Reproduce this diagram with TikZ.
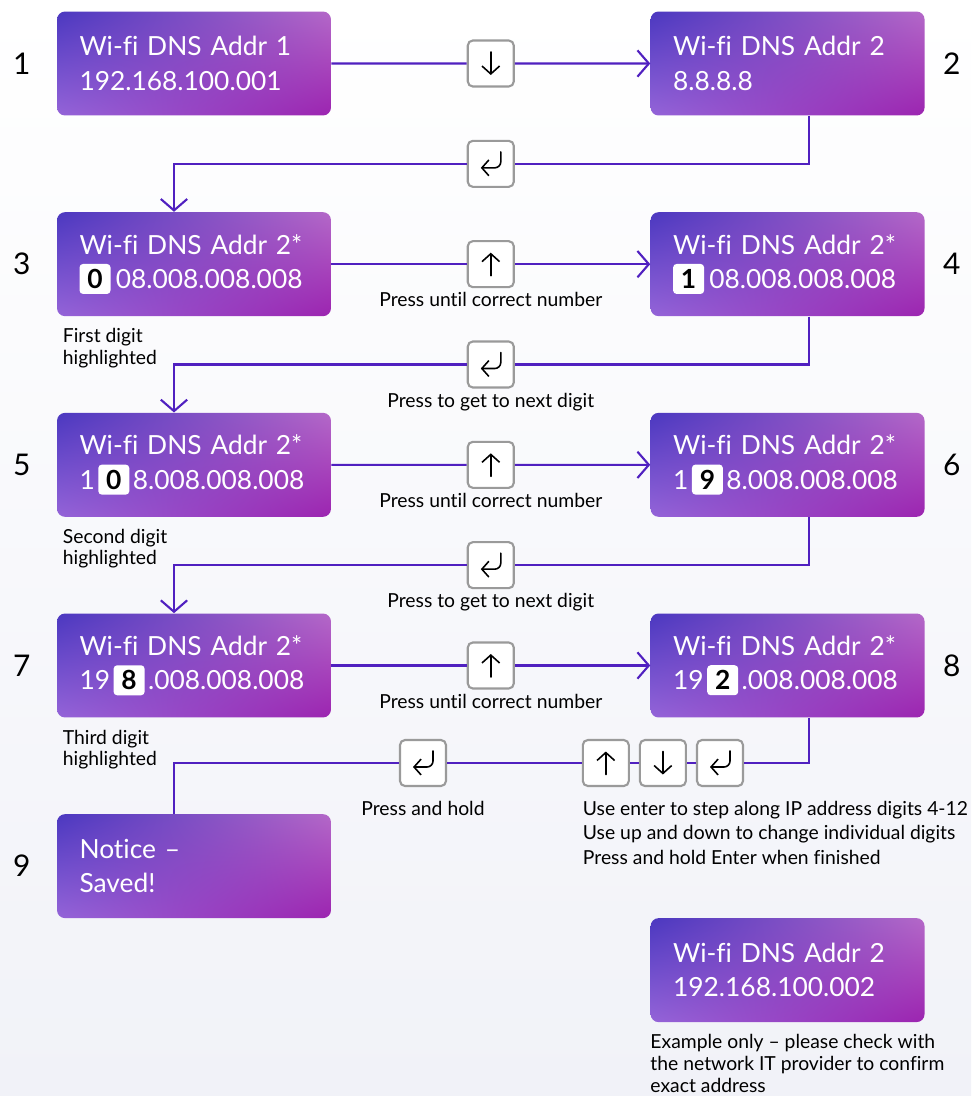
\documentclass[tikz,border=0pt]{standalone}
\usepackage{fontspec}
\setmainfont{Lato}[Ligatures=CommonOff]
\usepackage{xcolor}
\usepackage{tikz}
\usetikzlibrary{arrows.meta, positioning, calc, shadings}

\definecolor{flowline}{HTML}{5020C0}
\definecolor{keyrim}{HTML}{9A9A9A}
\definecolor{screenUL}{HTML}{4B38C0}
\definecolor{screenUR}{HTML}{B468C8}
\definecolor{screenLL}{HTML}{9464D8}
\definecolor{screenLR}{HTML}{9C24B0}
\definecolor{pagebottom}{HTML}{F1F2F8}

\newcommand{\digitmark}[1]{\tikz[baseline=(dm.base)]\node[fill=white, rounded corners=2pt, text=black, font=\bfseries, inner sep=0pt, minimum width=0.62cm, minimum height=0.6cm] (dm) {#1};}
\newcommand{\screenpad}{\setlength{\parindent}{0pt}\setlength{\leftskip}{0.45cm}}

\begin{document}
\begin{tikzpicture}[
        x=0.02cm, y=-0.02cm,
        screen/.style={rounded corners=0.16cm, minimum width=5.48cm, minimum height=2.08cm, text width=5.48cm, inner xsep=0pt, text=white, font=\fontsize{15}{19.5}\selectfont, execute at begin node=\screenpad, upper left=screenUL, upper right=screenUR, lower left=screenLL, lower right=screenLR},
        num/.style={font=\fontsize{17}{20}\selectfont},
        note/.style={font=\fontsize{11}{12}\selectfont, align=left},
        flow/.style={draw=flowline, line width=1.2pt},
        flowarrow/.style={flow, -{Straight Barb[length=6.5pt,width=15pt]}},
        glyph/.style={draw=black, line width=0.9pt, line cap=round},
        key/.style={draw=keyrim, line width=1.2pt, fill=white, rounded corners=0.1cm, minimum size=0.92cm, inner sep=0pt},
        keyup/.style={key, path picture={\draw[glyph, -{Straight Barb[length=4.5pt,width=10pt]}] ([yshift=-0.23cm]path picture bounding box.center) -- ([yshift=0.23cm]path picture bounding box.center);}},
        keydown/.style={key, path picture={\draw[glyph, -{Straight Barb[length=4.5pt,width=10pt]}] ([yshift=0.23cm]path picture bounding box.center) -- ([yshift=-0.23cm]path picture bounding box.center);}},
        keyenter/.style={key, path picture={\draw[glyph, rounded corners=0.12cm, -{Straight Barb[length=4pt,width=9pt]}] ([shift={(0.2cm,0.24cm)}]path picture bounding box.center) -- ([shift={(0.2cm,-0.08cm)}]path picture bounding box.center) -- ([shift={(-0.2cm,-0.08cm)}]path picture bounding box.center);}}
        ]
        \useasboundingbox (0,0) rectangle (971,1096);
        \shade[top color=white, bottom color=pagebottom] (0,0) rectangle (971,1096);

        % Screens
        \node[screen] (b1) at (194,63.5) {Wi-fi DNS Addr 1\\192.168.100.001};
        \node[screen, right=6.38cm of b1] (b2) {Wi-fi DNS Addr 2\\8.8.8.8};
        \node[screen, below=1.92cm of b1] (b3) {Wi-fi DNS Addr 2*\\\digitmark{0}\hspace{3pt}08.008.008.008};
        \node[screen, right=6.38cm of b3] (b4) {Wi-fi DNS Addr 2*\\\digitmark{1}\hspace{3pt}08.008.008.008};
        \node[screen, below=1.92cm of b3] (b5) {Wi-fi DNS Addr 2*\\1\hspace{2pt}\digitmark{0}\hspace{2pt}8.008.008.008};
        \node[screen, right=6.38cm of b5] (b6) {Wi-fi DNS Addr 2*\\1\hspace{2pt}\digitmark{9}\hspace{2pt}8.008.008.008};
        \node[screen, below=1.92cm of b5] (b7) {Wi-fi DNS Addr 2*\\19\hspace{2pt}\digitmark{8}\hspace{2pt}.008.008.008};
        \node[screen, right=6.38cm of b7] (b8) {Wi-fi DNS Addr 2*\\19\hspace{2pt}\digitmark{2}\hspace{2pt}.008.008.008};
        \node[screen, below=1.92cm of b7] (b9) {Notice --\\Saved!};
        \node[screen, below=4cm of b8] (b10) {Wi-fi DNS Addr 2\\192.168.100.002};

        % Step numbers
        \node[num] (n1) at ([xshift=-0.7cm]b1.west) {1};
        \node[num] (n2) at ([xshift=0.54cm]b2.east) {2};
        \node[num] (n3) at ([xshift=-0.7cm]b3.west) {3};
        \node[num] (n4) at ([xshift=0.54cm]b4.east) {4};
        \node[num] (n5) at ([xshift=-0.7cm]b5.west) {5};
        \node[num] (n6) at ([xshift=0.54cm]b6.east) {6};
        \node[num] (n7) at ([xshift=-0.7cm]b7.west) {7};
        \node[num] (n8) at ([xshift=0.54cm]b8.east) {8};
        \node[num] (n9) at ([xshift=-0.7cm]b9.west) {9};

        % Keys
        \node[keydown] (k1) at ($(b1.east)!0.5!(b2.west)$) {};
        \node[keyenter] (k2) at ($(b2.south)!0.5!(b3.north)$) {};
        \node[keyup] (k3) at ($(b3.east)!0.5!(b4.west)$) {};
        \node[keyenter] (k4) at ($(b4.south)!0.5!(b5.north)$) {};
        \node[keyup] (k5) at ($(b5.east)!0.5!(b6.west)$) {};
        \node[keyenter] (k6) at ($(b6.south)!0.5!(b7.north)$) {};
        \node[keyup] (k7) at ($(b7.east)!0.5!(b8.west)$) {};
        \node[keyenter] (k8c) at (720,763) {};
        \node[keydown, left=0.18cm of k8c] (k8b) {};
        \node[keyup, left=0.18cm of k8b] (k8a) {};
        \node[keyenter] (k9) at (423,763) {};

        % Connectors
        \draw[flow] (b1) -- (k1);
        \draw[flowarrow] (k1) -- (b2);
        \draw[flow] ([xshift=0.43cm]b2.south) |- (k2);
        \draw[flowarrow] (k2) -| ([xshift=-0.4cm]b3.north);
        \draw[flow] (b3) -- (k3);
        \draw[flowarrow] (k3) -- (b4);
        \draw[flow] ([xshift=0.43cm]b4.south) |- (k4);
        \draw[flowarrow] (k4) -| ([xshift=-0.4cm]b5.north);
        \draw[flow] (b5) -- (k5);
        \draw[flowarrow] (k5) -- (b6);
        \draw[flow] ([xshift=0.43cm]b6.south) |- (k6);
        \draw[flowarrow] (k6) -| ([xshift=-0.4cm]b7.north);
        \draw[flow] (b7) -- (k7);
        \draw[flowarrow] (k7) -- (b8);
        \draw[flow] ([xshift=0.43cm]b8.south) |- (k8c);
        \draw[flow] (k8c) -- (k8b);
        \draw[flow] (k8b) -- (k8a);
        \draw[flow] (k8a) -- (k9);
        \draw[flow] (k9) -| ([xshift=-0.4cm]b9.north);

        % Notes
        \node[note, below=-1pt of k3] (t3) {Press until correct number};
        \node[note, below=-1pt of k4] (t4) {Press to get to next digit};
        \node[note, below=-1pt of k5] (t5) {Press until correct number};
        \node[note, below=-1pt of k6] (t6) {Press to get to next digit};
        \node[note, below=-1pt of k7] (t7) {Press until correct number};
        \node[note, below=0.15cm of k9] (t9) {Press and hold};
        \node[note, anchor=north west] (h3) at ([yshift=-0.12cm]b3.south west) {First digit\\highlighted};
        \node[note, anchor=north west] (h5) at ([yshift=-0.12cm]b5.south west) {Second digit\\highlighted};
        \node[note, anchor=north west] (h7) at ([yshift=-0.12cm]b7.south west) {Third digit\\highlighted};
        \node[note, font=\fontsize{11}{14}\selectfont, anchor=north west] (t8) at ([xshift=-0.1cm,yshift=-0.15cm]k8a.south west) {Use enter to step along IP address digits 4-12\\Use up and down to change individual digits\\Press and hold Enter when finished};
        \node[note, font=\fontsize{11}{12.5}\selectfont, anchor=north west] (t10) at ([xshift=-0.12cm,yshift=-0.12cm]b10.south west) {Example only -- please check with\\the network IT provider to confirm\\exact address};
    \end{tikzpicture}
\end{document}
